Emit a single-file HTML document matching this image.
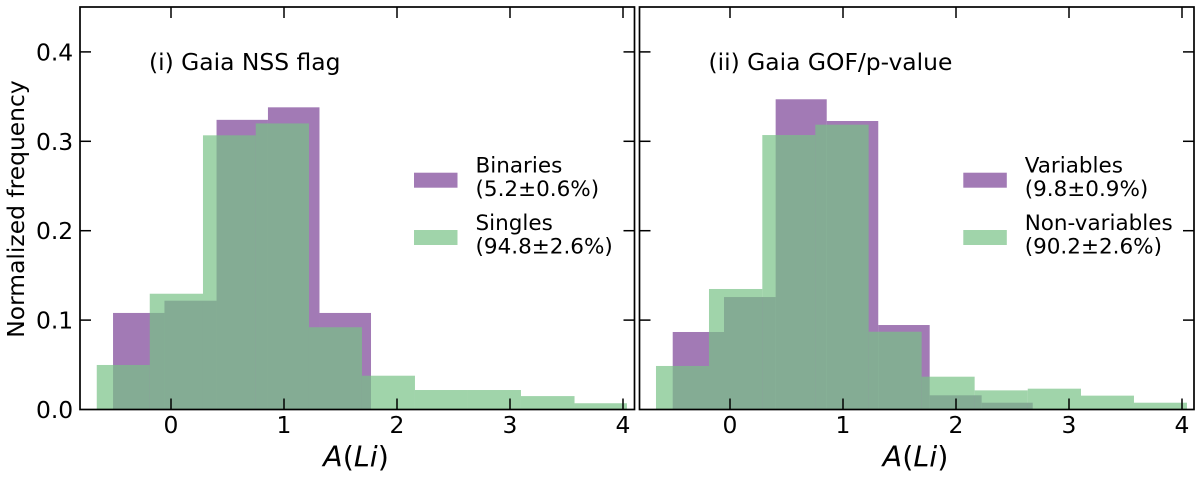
<!DOCTYPE html>
<html>
<head>
<meta charset="utf-8">
<style>
html,body{margin:0;padding:0;background:#fff;}
svg{display:block;}
text{font-family:"DejaVu Sans","Liberation Sans",sans-serif;fill:#000;}
</style>
</head>
<body>
<svg id="chart" xmlns="http://www.w3.org/2000/svg" width="1200" height="479" viewBox="0 0 1200 479"></svg>
<script>
const xTickLabels = ['0', '1', '2', '3', '4'];
const yTickLabels = ['0.0', '0.1', '0.2', '0.3', '0.4'];
const xTickValues = [0, 1, 2, 3, 4];
const yTickValues = [0, 0.1, 0.2, 0.3, 0.4];

const binariesEdges = [-0.513, -0.058, 0.403, 0.858, 1.314, 1.770];
const binariesValues = [0.108, 0.1217, 0.324, 0.338, 0.108];
const singlesEdges = [-0.657, -0.188, 0.283, 0.750, 1.221, 1.690, 2.159, 2.628, 3.097, 3.571, 4.035];
const singlesValues = [0.0498, 0.1295, 0.3067, 0.320, 0.092, 0.0378, 0.0218, 0.0218, 0.015, 0.007];

const variablesEdges = [-0.507, -0.053, 0.404, 0.856, 1.312, 1.767, 2.227, 2.679];
const variablesValues = [0.0867, 0.1258, 0.347, 0.3227, 0.0945, 0.0159, 0.0076];
const nonVariablesEdges = [-0.655, -0.186, 0.286, 0.755, 1.227, 1.696, 2.165, 2.635, 3.106, 3.575, 4.044];
const nonVariablesValues = [0.0487, 0.1348, 0.307, 0.3186, 0.087, 0.0367, 0.0214, 0.0233, 0.0155, 0.0076];

const NS = 'http://www.w3.org/2000/svg';
const svg = document.getElementById('chart');
const PURPLE = '#7b4195';
const GREEN = '#77c286';
const ALPHA = 0.7;
const LABEL_SIZE = 23.4;
const LEGEND_SIZE = 21.5;

const yScale = v => 409.5 - 894 * v;

function make(tag, attrs, parent) {
  const el = document.createElementNS(NS, tag);
  for (const k in attrs) el.setAttribute(k, attrs[k]);
  (parent || svg).appendChild(el);
  return el;
}

function drawBars(group, edges, values, xScale, color, prefix) {
  values.forEach((v, i) => {
    const x0 = xScale(edges[i]);
    const x1 = xScale(edges[i + 1]);
    const rect = make('rect', { x: x0, y: yScale(v), width: x1 - x0, height: yScale(0) - yScale(v), fill: color, 'fill-opacity': ALPHA }, group);
    
    
  });
}

function drawAxes(group, left, right, xScale, showYLabels) {
  const top = 7, bottom = 409.5;
  const tick = { stroke: '#000', 'stroke-width': 1.5 };
  xTickValues.forEach((v, i) => {
    const x = xScale(v);
    const t1 = make('line', Object.assign({ x1: x, x2: x, y1: bottom, y2: bottom - 11 }, tick), group);
    
    
    const t2 = make('line', Object.assign({ x1: x, x2: x, y1: top, y2: top + 11 }, tick), group);
    
    
    const lab = make('text', { x: x, y: 433, 'font-size': LABEL_SIZE, 'text-anchor': 'middle' }, group);
    lab.textContent = xTickLabels[i];
    
    
  });
  yTickValues.forEach((v, i) => {
    const y = yScale(v);
    if (v > 0) {
      const t1 = make('line', Object.assign({ x1: left, x2: left + 11, y1: y, y2: y }, tick), group);
      
      
      const t2 = make('line', Object.assign({ x1: right, x2: right - 11, y1: y, y2: y }, tick), group);
      
      
    }
    if (showYLabels) {
      const lab = make('text', { x: 73.2, y: y + 8.5, 'font-size': LABEL_SIZE, 'text-anchor': 'end' }, group);
      lab.textContent = yTickLabels[i];
      
      
    }
  });
  const frame = make('rect', { x: left, y: top, width: right - left, height: bottom - top, fill: 'none', stroke: '#000', 'stroke-width': 1.7 }, group);
  
  
}

function drawXTitle(group, cx) {
  const t = make('text', { x: cx, y: 466.5, 'font-size': 28.6, 'text-anchor': 'middle' }, group);
  
  
  const a = make('tspan', { 'font-style': 'italic' }, t);
  a.textContent = 'A';
  const b = make('tspan', {}, t);
  b.textContent = '(';
  const c = make('tspan', { 'font-style': 'italic' }, t);
  c.textContent = 'Li';
  const d = make('tspan', {}, t);
  d.textContent = ')';
}

function drawText(group, x, y, str, size, name) {
  const t = make('text', { x: x, y: y, 'font-size': size }, group);
  t.textContent = str;
  
  
}

function drawSwatch(group, x, y, color, name) {
  const r = make('rect', { x: x, y: y, width: 43.5, height: 15, fill: color, 'fill-opacity': ALPHA }, group);
  
  
}

const xLeft = v => 171 + 113 * v;
const xRight = v => 730 + 113 * v;

const leftPanel = make('g', {});


drawBars(leftPanel, binariesEdges, binariesValues, xLeft, PURPLE, 'binaries');
drawBars(leftPanel, singlesEdges, singlesValues, xLeft, GREEN, 'singles');
drawAxes(leftPanel, 80, 634.5, xLeft, true);
drawXTitle(leftPanel, 356);
drawText(leftPanel, 149, 70, '(i) Gaia NSS flag', LABEL_SIZE, 'panel-annotation');
drawSwatch(leftPanel, 414, 172.7, PURPLE, 'legend-swatch-binaries');
drawText(leftPanel, 475.5, 172.7, 'Binaries', LEGEND_SIZE, 'legend-label-binaries');
drawText(leftPanel, 475.5, 196.2, '(5.2±0.6%)', LEGEND_SIZE, 'legend-value-binaries');
drawSwatch(leftPanel, 414, 230, GREEN, 'legend-swatch-singles');
drawText(leftPanel, 475.5, 230, 'Singles', LEGEND_SIZE, 'legend-label-singles');
drawText(leftPanel, 475.5, 253.5, '(94.8±2.6%)', LEGEND_SIZE, 'legend-value-singles');

const rightPanel = make('g', {});


drawBars(rightPanel, variablesEdges, variablesValues, xRight, PURPLE, 'variables');
drawBars(rightPanel, nonVariablesEdges, nonVariablesValues, xRight, GREEN, 'non-variables');
drawAxes(rightPanel, 639.5, 1194, xRight, false);
drawXTitle(rightPanel, 915.5);
drawText(rightPanel, 708.5, 70, '(ii) Gaia GOF/p-value', LABEL_SIZE, 'panel-annotation');
drawSwatch(rightPanel, 963.3, 172.7, PURPLE, 'legend-swatch-variables');
drawText(rightPanel, 1024.7, 172.7, 'Variables', LEGEND_SIZE, 'legend-label-variables');
drawText(rightPanel, 1024.7, 196.2, '(9.8±0.9%)', LEGEND_SIZE, 'legend-value-variables');
drawSwatch(rightPanel, 963.3, 230, GREEN, 'legend-swatch-non-variables');
drawText(rightPanel, 1024.7, 230, 'Non-variables', LEGEND_SIZE, 'legend-label-non-variables');
drawText(rightPanel, 1024.7, 253.5, '(90.2±2.6%)', LEGEND_SIZE, 'legend-value-non-variables');

const yTitle = make('text', { x: 0, y: 0, 'font-size': LABEL_SIZE, 'text-anchor': 'middle', transform: 'translate(24 209) rotate(-90)' });
yTitle.textContent = 'Normalized frequency';


</script>
</body>
</html>
